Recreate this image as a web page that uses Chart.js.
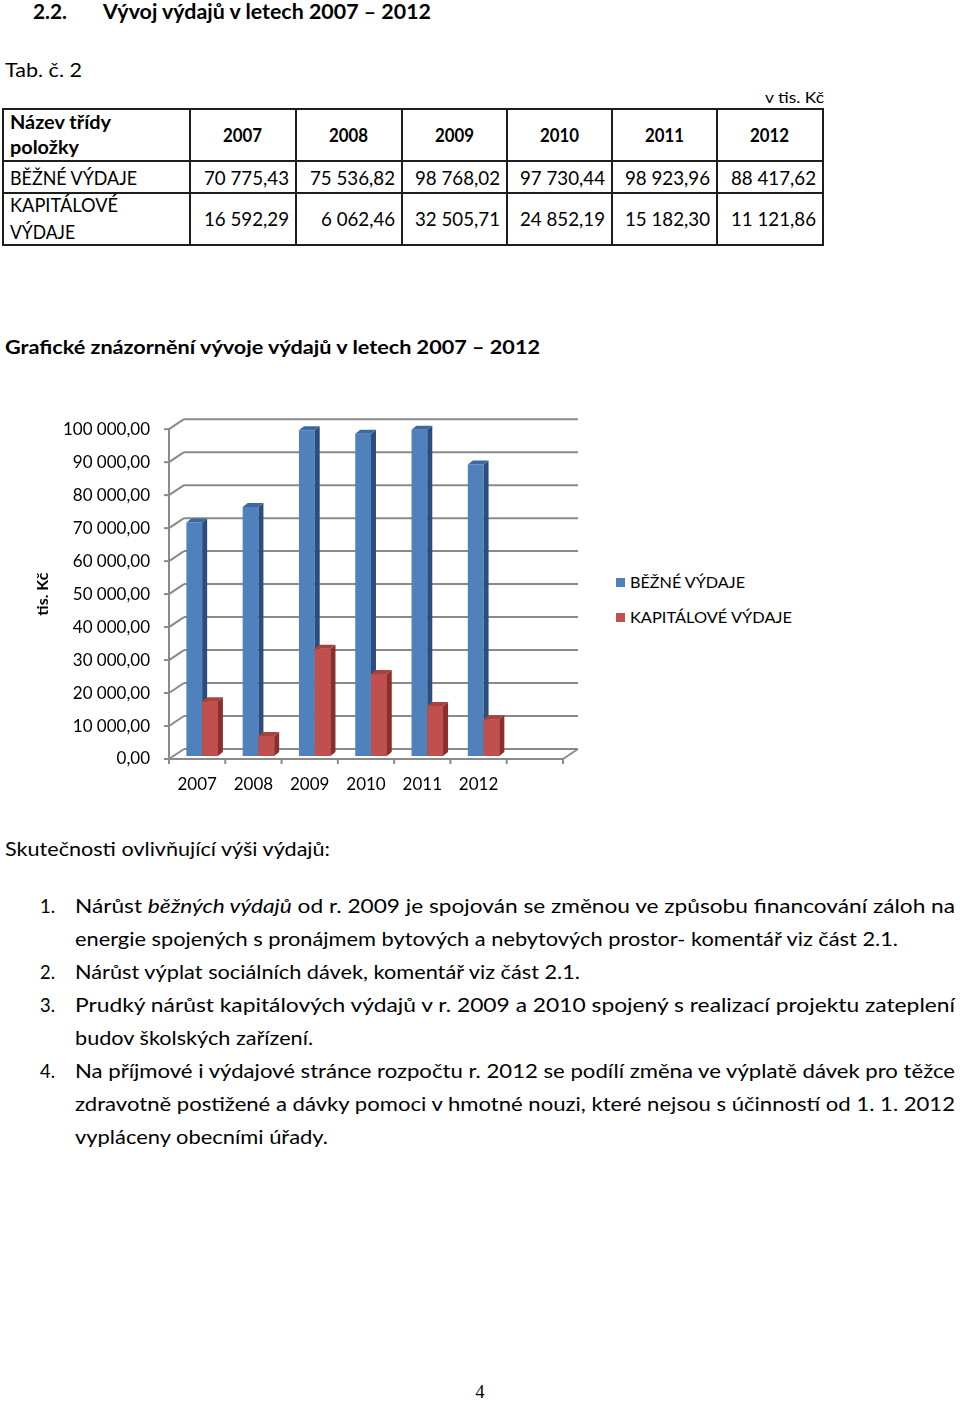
<!DOCTYPE html>
<html lang="cs">
<head>
<meta charset="utf-8">
<title>Vývoj výdajů v letech 2007 – 2012</title>
<script src="https://cdn.jsdelivr.net/npm/chart.js@4.4.1/dist/chart.umd.min.js"></script>
<style>
html,body{margin:0;padding:0;background:#fff;}
#page{position:relative;width:960px;height:1403px;overflow:hidden;background:#fff;font-family:Lato,"Open Sans",sans-serif;color:#000;}
.t{position:absolute;white-space:nowrap;display:inline-block;transform-origin:0 50%;}
.ln{position:absolute;background:#1e1e1e;}
#chartWrap{position:absolute;left:0;top:400px;width:600px;height:410px;}
.sw{position:absolute;width:9px;height:9px;}
</style>
</head>
<body>
<div id="page">
  <div id="chartWrap"><canvas id="c" width="600" height="410"></canvas></div>
</div>
<script>
// ---------- DATA ----------
const years = ['2007', '2008', '2009', '2010', '2011', '2012'];
const bezneVydaje = [70775.43, 75536.82, 98768.02, 97730.44, 98923.96, 88417.62];
const kapitaloveVydaje = [16592.29, 6062.46, 32505.71, 24852.19, 15182.30, 11121.86];
const seriesNames = ['BĚŽNÉ VÝDAJE', 'KAPITÁLOVÉ VÝDAJE'];
const tableRowNames = [['BĚŽNÉ VÝDAJE'], ['KAPITÁLOVÉ', 'VÝDAJE']];
const yMax = 100000;
const yStep = 10000;
const axisTitle = 'tis. Kč';

// ---------- STYLE ----------
const seriesColors = ['#4f81bd', '#c0504d'];
const sideColors = ['#2c4e7e', '#8b2f2c'];
const topColors = ['#3d69a3', '#a9413e'];

function fmtCz(v) {
  const s = Number(v).toFixed(2).split('.');
  const int = s[0].replace(/\B(?=(\d{3})+(?!\d))/g, ' ');
  return int + ',' + s[1];
}

const page = document.getElementById('page');
const mctx = document.createElement('canvas').getContext('2d');
function fontStr(o) {
  return (o.italic ? 'italic ' : '') + (o.bold ? '700 ' : '400 ') + (o.fs || 19) + 'px ' + (o.family || 'Lato');
}
function measure(text, o) { mctx.font = fontStr(o); return mctx.measureText(text).width; }

function place(html, o) {
  const e = document.createElement('div');
  e.className = 't';
  e.innerHTML = html;
  const fs = o.fs || 19;
  e.style.font = fontStr(o);
  e.style.lineHeight = (o.lh || fs) + 'px';
  e.style.top = (o.y - 0.53 * fs - ((o.lh || fs) - fs) / 2) + 'px';
  e.style.left = '0px';
  page.appendChild(e);
  const nw = e.getBoundingClientRect().width;
  const s = o.w ? o.w / nw : (o.s || 1);
  const fw = nw * s;
  let left = o.x;
  if (o.align === 'right') left = o.x - fw;
  else if (o.align === 'center') left = o.x - fw / 2;
  e.style.left = left + 'px';
  e.style.transform = 'scaleX(' + s + ')';
  return s;
}

// ---------- HEADINGS ----------
place('2.2.', {x: 33, y: 12, fs: 20, bold: true, w: 34});
place('Vývoj výdajů v letech 2007 – 2012', {x: 103, y: 12, fs: 20, bold: true, w: 328});
place('Tab. č. 2', {x: 5, y: 70, w: 77});
place('v tis. Kč', {x: 824, y: 97, fs: 16, w: 59, align: 'right'});

// ---------- TABLE ----------
const colX = [3, 190, 296, 402, 507, 612, 717, 823];
const rowY = [109, 161, 193, 245];
rowY.forEach(y => {
  const d = document.createElement('div'); d.className = 'ln';
  d.style.left = (colX[0] - 1) + 'px'; d.style.top = (y - 1) + 'px';
  d.style.width = (colX[colX.length - 1] - colX[0] + 2) + 'px'; d.style.height = '2px';
  page.appendChild(d);
});
colX.forEach(x => {
  const d = document.createElement('div'); d.className = 'ln';
  d.style.left = (x - 1) + 'px'; d.style.top = (rowY[0] - 1) + 'px';
  d.style.width = '2px'; d.style.height = (rowY[rowY.length - 1] - rowY[0] + 2) + 'px';
  page.appendChild(d);
});
place('Název třídy', {x: 10, y: 122.5, bold: true, w: 101});
place('položky', {x: 10, y: 147.5, bold: true, w: 69});
const sYear = 39 / measure('2007', {bold: true});
years.forEach((yr, i) => {
  place(yr, {x: (colX[i + 1] + colX[i + 2]) / 2, y: 135, bold: true, s: sYear, align: 'center'});
});
const sNum = 85 / measure('70 775,43', {});
place(tableRowNames[0][0], {x: 10, y: 178, w: 127});
place(tableRowNames[1][0], {x: 10, y: 205, w: 108});
place(tableRowNames[1][1], {x: 10, y: 232, w: 65});
bezneVydaje.forEach((v, i) => place(fmtCz(v), {x: colX[i + 2] - 7, y: 178, s: sNum, align: 'right'}));
kapitaloveVydaje.forEach((v, i) => place(fmtCz(v), {x: colX[i + 2] - 7, y: 219, s: sNum, align: 'right'}));

// ---------- CHART TITLE ----------
place('Grafické znázornění vývoje výdajů v letech 2007 – 2012', {x: 5, y: 347, bold: true, w: 535});

// ---------- LEGEND ----------
[582, 617].forEach((y, i) => {
  const sw = document.createElement('div'); sw.className = 'sw';
  sw.style.left = '616px'; sw.style.top = (y - 4.5) + 'px'; sw.style.background = seriesColors[i];
  page.appendChild(sw);
  place(seriesNames[i], {x: 630, y: y, fs: 16, w: i === 0 ? 115 : 162});
});

// ---------- BODY TEXT ----------
place('Skutečnosti ovlivňující výši výdajů:', {x: 5, y: 849, w: 325});
const nums = [['1.', 906], ['2.', 972], ['3.', 1005], ['4.', 1071]];
nums.forEach(n => place(n[0], {x: 40, y: n[1], w: 15}));
const lines = [
  ['Nárůst <i>běžných výdajů</i> od r. 2009 je spojován se změnou ve způsobu financování záloh na', 906, 880],
  ['energie spojených s pronájmem bytových a nebytových prostor- komentář viz část 2.1.', 939, 823],
  ['Nárůst výplat sociálních dávek, komentář viz část 2.1.', 972, 505],
  ['Prudký nárůst kapitálových výdajů v r. 2009 a 2010 spojený s realizací projektu zateplení', 1005, 880],
  ['budov školských zařízení.', 1038, 238],
  ['Na příjmové i výdajové stránce rozpočtu r. 2012 se podílí změna ve výplatě dávek pro těžce', 1071, 880],
  ['zdravotně postižené a dávky pomoci v hmotné nouzi, které nejsou s účinností od 1. 1. 2012', 1104, 880],
  ['vypláceny obecními úřady.', 1137, 253]
];
lines.forEach(l => place(l[0], {x: 75, y: l[1], w: l[2]}));
place('4', {x: 480, y: 1393, fs: 18, family: '"Liberation Serif"', align: 'center'});

// ---------- CHART ----------
const DX = 15, DY = 10;   // depth of back wall
const BX = 5, BY = 3;     // bar plane offset
const SX = 5, SY = 4;     // bar depth

function barFaces(ctx, meta, i) {
  meta.data.forEach(el => {
    const p = el.getProps(['x', 'y', 'base', 'width'], true);
    const l = p.x - p.width / 2, r = p.x + p.width / 2;
    ctx.fillStyle = sideColors[i];
    ctx.beginPath();
    ctx.moveTo(r, p.y); ctx.lineTo(r + SX, p.y - SY); ctx.lineTo(r + SX, p.base - SY); ctx.lineTo(r, p.base);
    ctx.closePath(); ctx.fill();
    ctx.fillStyle = topColors[i];
    ctx.beginPath();
    ctx.moveTo(l, p.y); ctx.lineTo(l + SX, p.y - SY); ctx.lineTo(r + SX, p.y - SY); ctx.lineTo(r, p.y);
    ctx.closePath(); ctx.fill();
  });
}

const threeD = {
  id: 'threeD',
  beforeDatasetsDraw(chart) {
    const ctx = chart.ctx;
    const {left, right, bottom} = chart.chartArea;
    const xs = chart.scales.x, ys = chart.scales.y;
    ctx.save();
    ctx.strokeStyle = '#8a8a8a';
    ctx.lineWidth = 2;
    ctx.lineCap = 'butt';
    const seg = (a, b, c, d) => { ctx.beginPath(); ctx.moveTo(a, b); ctx.lineTo(c, d); ctx.stroke(); };
    ys.ticks.forEach(t => {
      const py = ys.getPixelForValue(t.value);
      seg(left - 5, py, left, py);
      seg(left, py, left + DX, py - DY);
      seg(left + DX, py - DY, right + DX, py - DY);
    });
    const y0 = ys.getPixelForValue(0);
    seg(left, y0, right, y0);
    seg(right, y0, right + DX, y0 - DY);
    seg(left, ys.getPixelForValue(yMax) - 1, left, y0 + 1);
    const n = xs.getLabels().length;
    const step = (right - left) / n;
    for (let i = 0; i <= n; i++) seg(left + i * step, y0, left + i * step, y0 + 5);
    ctx.restore();
    ctx.save();
    ctx.translate(BX, -BY);
  },
  afterDatasetsDraw(chart) {
    const ctx = chart.ctx;
    const m0 = chart.getDatasetMeta(0), m1 = chart.getDatasetMeta(1);
    barFaces(ctx, m0, 0);
    m1.data.forEach(el => el.draw(ctx, chart.chartArea));
    barFaces(ctx, m1, 1);
    ctx.restore();
  }
};

Chart.defaults.font.family = 'Lato';
new Chart(document.getElementById('c'), {
  type: 'bar',
  data: {
    labels: [...years, ''],
    datasets: [
      {label: seriesNames[0], data: bezneVydaje, backgroundColor: seriesColors[0], borderWidth: 0},
      {label: seriesNames[1], data: kapitaloveVydaje, backgroundColor: seriesColors[1], borderWidth: 0}
    ]
  },
  options: {
    responsive: false,
    animation: false,
    devicePixelRatio: 1,
    layout: {padding: {left: 0, top: 27, right: 37, bottom: 0}},
    plugins: {legend: {display: false}, tooltip: {enabled: false}},
    datasets: {bar: {categoryPercentage: 0.56, barPercentage: 1, clip: false}},
    scales: {
      x: {
        grid: {display: false, drawTicks: false},
        border: {display: false},
        ticks: {color: '#000', font: {size: 17}, padding: 15, maxRotation: 0, autoSkip: false},
        afterFit(s) { s.height = 51; }
      },
      y: {
        min: 0, max: yMax,
        grid: {display: false, drawTicks: false},
        border: {display: false},
        ticks: {stepSize: yStep, color: '#000', font: {size: 17}, padding: 19, callback: v => fmtCz(v)},
        title: {display: true, text: axisTitle, color: '#000', font: {size: 16, weight: 'bold'}, padding: {top: 33, bottom: 0}},
        afterFit(s) { s.width = 169; }
      }
    }
  },
  plugins: [threeD]
});
</script>
</body>
</html>
